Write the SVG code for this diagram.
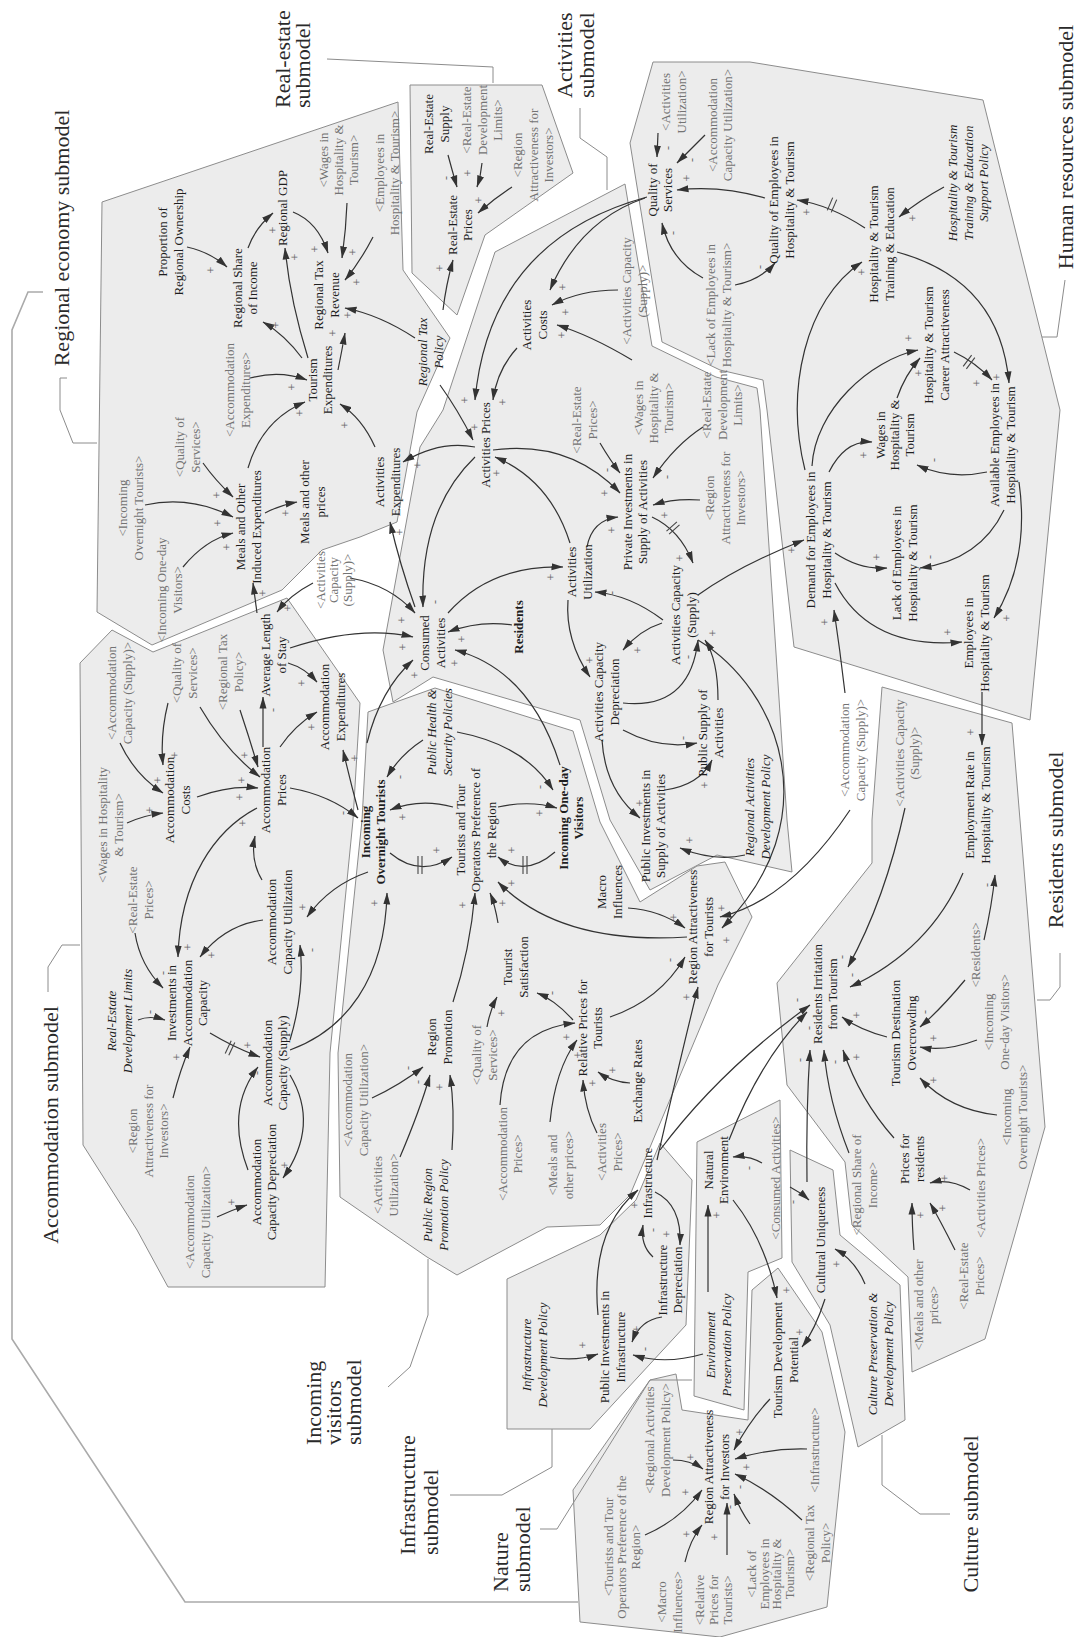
<svg xmlns="http://www.w3.org/2000/svg" width="1077" height="1637" viewBox="0 0 1077 1637">
<defs>
<marker id="ah" viewBox="0 0 12 8" refX="11.5" refY="4" markerWidth="12" markerHeight="8" markerUnits="userSpaceOnUse" orient="auto"><path d="M0,0.5 L12,4 L0,7.5 z" fill="#333"/></marker>
<style>
.n{font-family:"Liberation Serif","Times New Roman",serif;font-size:13px;fill:#1e1e1e;text-anchor:middle}
.g{fill:#737373}
.i{font-style:italic}
.b{font-weight:bold}
.s{font-family:"Liberation Serif",serif;font-size:12px;fill:#666;text-anchor:middle}
.ttl{font-family:"Liberation Serif","Times New Roman",serif;font-size:22px;fill:#2a2a2a}
.poly{fill:#ececec;stroke:#8c8c8c;stroke-width:1}
.br{fill:none;stroke:#8c8c8c;stroke-width:1}
.a{fill:none;stroke:#333;stroke-width:1.2;marker-end:url(#ah)}
.d{stroke:#444;stroke-width:1.1}
</style>
</defs>
<rect width="1077" height="1637" fill="#fff"/>

<g id="submodel-areas">
<polygon class="poly" points="102,202 398,102 403,270 450,338 417,412 397,522 360,537 322,550 282,590 152,645 97,612"/>
<polygon class="poly" points="410,85 542,85 573,173 485,235 457,315 412,273"/>
<polygon class="poly" points="495,252 625,184 652,346 716,377 757,388 760,410 787,820 792,872 717,855 650,890 610,820 580,720 433,677 393,702 383,650 420,447 443,410"/>
<polygon class="poly" points="653,62 750,62 983,100 1060,410 1030,720 794,647 767,410 763,380 720,370 662,342 630,143"/>
<polygon class="poly" points="80,663 112,630 153,652 287,598 360,703 353,820 330,1053 325,1287 168,1287 137,1230 83,1145"/>
<polygon class="poly" points="368,712 435,688 573,731 600,822 640,902 697,866 725,862 752,917 718,985 630,1195 600,1225 547,1227 457,1275 427,1257 340,1197 338,1053 362,820"/>
<polygon class="poly" points="882,687 1012,723 1020,820 1045,1127 1017,1227 985,1339 912,1372 908,1277 852,1225 845,1162 787,1085 777,983 872,863 872,820"/>
<polygon class="poly" points="507,1279 600,1235 636,1200 660,1143 692,1180 686,1325 590,1429 507,1429"/>
<polygon class="poly" points="697,1142 780,1100 782,1258 748,1272 744,1410 694,1396"/>
<polygon class="poly" points="790,1150 833,1170 840,1235 900,1285 905,1420 858,1447 830,1325 792,1262"/>
<polygon class="poly" points="580,1622 573,1490 650,1380 676,1374 682,1410 748,1420 752,1290 778,1268 822,1332 845,1432 827,1607 720,1637"/>
</g>

<g id="titles">
<polyline points="43,292 28,292 12,330 12,1339 185,1602 578,1602" fill="none" stroke="#aaa" stroke-width="1.6"/>
<polyline class="br" points="67,378 60,378 60,410 73,443 97,443"/>
<polyline class="br" points="327,59 493,67 493,83"/>
<polyline class="br" points="580,108 580,138 607,157 607,190"/>
<polyline class="br" points="1065,280 1057,337 1042,337"/>
<polyline class="br" points="1060,953 1060,987 1050,1000 1037,1000"/>
<polyline class="br" points="48,992 48,967 62,945 80,945"/>
<polyline class="br" points="388,1387 410,1367 428,1315 428,1259"/>
<polyline class="br" points="450,1495 502,1495 552,1467 552,1429"/>
<polyline class="br" points="540,1529 557,1529 650,1380 692,1380"/>
<polyline class="br" points="950,1514 920,1514 882,1485 882,1435"/>
<text class="ttl" text-anchor="middle" transform="translate(61,238) rotate(-90)" y="7.7">Regional economy submodel</text>
<text class="ttl" transform="translate(292,108) rotate(-90)"><tspan x="0" y="-2.3">Real-estate</tspan><tspan x="0" y="17.7">submodel</tspan></text>
<text class="ttl" transform="translate(575,98) rotate(-90)"><tspan x="0" y="-3.3">Activities</tspan><tspan x="0" y="18.7">submodel</tspan></text>
<text class="ttl" text-anchor="middle" transform="translate(1065,147) rotate(-90)" y="7.7">Human resources submodel</text>
<text class="ttl" text-anchor="middle" transform="translate(1055,840) rotate(-90)" y="7.7">Residents submodel</text>
<text class="ttl" text-anchor="middle" transform="translate(50,1125) rotate(-90)" y="7.7">Accommodation submodel</text>
<text class="ttl" transform="translate(333,1445) rotate(-90)"><tspan x="0" y="-12.3">Incoming</tspan><tspan x="0" y="7.7">visitors</tspan><tspan x="0" y="27.7">submodel</tspan></text>
<text class="ttl" transform="translate(418.5,1555) rotate(-90)"><tspan x="0" y="-3.8">Infrastructure</tspan><tspan x="0" y="19.2">submodel</tspan></text>
<text class="ttl" transform="translate(511,1592) rotate(-90)"><tspan x="0" y="-3.3">Nature</tspan><tspan x="0" y="18.7">submodel</tspan></text>
<text class="ttl" text-anchor="middle" transform="translate(970,1514) rotate(-90)" y="7.7">Culture submodel</text>
</g>

<g id="connectors">
<path class="a" d="M187,247 Q210,252 227,267"/>
<path class="a" d="M248,248 Q255,228 273,213"/>
<path class="a" d="M293,212 Q318,222 328,253"/>
<path class="a" d="M347,203 Q346,230 342,258"/>
<path class="a" d="M308,358 Q290,300 285,248"/>
<path class="a" d="M302,358 Q285,335 263,322"/>
<path class="a" d="M338,370 Q342,350 345,333"/>
<path class="a" d="M250,378 Q280,370 307,380"/>
<path class="a" d="M248,468 Q262,420 305,402"/>
<path class="a" d="M375,447 Q362,418 340,404"/>
<path class="a" d="M373,237 Q360,262 345,280"/>
<path class="a" d="M415,338 Q380,315 345,308"/>
<path class="a" d="M443,310 Q446,285 453,260"/>
<path class="a" d="M448,155 Q452,170 457,187"/>
<path class="a" d="M482,163 Q481,175 477,187"/>
<path class="a" d="M512,187 Q495,198 478,213"/>
<path class="a" d="M440,385 Q458,410 473,440"/>
<path class="a" d="M645,198 Q580,220 550,290"/>
<path class="a" d="M618,290 Q580,290 552,305"/>
<path class="a" d="M632,360 Q590,335 557,325"/>
<path class="a" d="M517,348 Q497,370 493,400"/>
<path class="a" d="M647,197 Q490,240 475,400"/>
<path class="a" d="M475,447 Q440,440 403,462"/>
<path class="a" d="M600,443 Q610,460 620,473"/>
<path class="a" d="M703,427 Q675,445 653,478"/>
<path class="a" d="M700,500 Q675,498 653,505"/>
<path class="a" d="M493,450 Q570,440 620,493"/>
<path class="a" d="M587,547 Q592,520 618,517"/>
<path class="a" d="M652,517 Q680,530 693,563"/>
<path class="a" d="M570,543 Q550,480 495,457"/>
<path class="a" d="M475,457 Q420,510 423,607"/>
<path class="a" d="M448,613 Q490,565 563,567"/>
<path class="a" d="M512,625 Q480,620 448,632"/>
<path class="a" d="M663,620 Q630,595 595,592"/>
<path class="a" d="M662,623 Q640,630 623,650"/>
<path class="a" d="M568,600 Q565,640 590,677"/>
<path class="a" d="M623,703 Q690,710 698,640"/>
<path class="a" d="M623,730 Q660,750 697,743"/>
<path class="a" d="M718,700 Q718,660 705,640"/>
<path class="a" d="M602,740 Q605,790 640,818"/>
<path class="a" d="M665,790 Q700,785 712,760"/>
<path class="a" d="M745,855 Q715,862 680,848"/>
<path class="a" d="M350,578 Q390,585 415,613"/>
<path class="a" d="M290,648 Q360,625 413,637"/>
<path class="a" d="M367,743 Q380,690 413,660"/>
<path class="a" d="M560,765 Q530,670 455,650"/>
<path class="a" d="M415,607 Q400,565 390,522"/>
<path class="a" d="M423,740 Q400,755 387,777"/>
<path class="a" d="M457,732 Q525,745 553,790"/>
<path class="a" d="M498,807 Q530,800 557,808"/>
<path class="a" d="M453,807 Q420,798 390,810"/>
<path class="a" d="M390,853 Q420,878 452,857"/>
<path class="a" d="M555,852 Q525,878 498,857"/>
<path class="a" d="M290,1050 C345,1030 385,980 387,893"/>
<path class="a" d="M453,1002 Q470,950 475,893"/>
<path class="a" d="M498,923 Q495,905 490,893"/>
<path class="a" d="M687,937 Q560,945 498,882"/>
<path class="a" d="M628,908 Q660,910 685,928"/>
<path class="a" d="M487,1027 Q490,1010 497,997"/>
<path class="a" d="M573,1020 Q555,1000 537,993"/>
<path class="a" d="M610,1017 Q660,1000 685,957"/>
<path class="a" d="M630,1083 Q612,1082 598,1072"/>
<path class="a" d="M500,1105 Q505,1030 575,1023"/>
<path class="a" d="M550,1122 Q555,1070 577,1040"/>
<path class="a" d="M597,1133 Q585,1110 583,1080"/>
<path class="a" d="M372,1098 Q400,1085 423,1067"/>
<path class="a" d="M400,1157 Q420,1110 430,1075"/>
<path class="a" d="M452,1150 Q455,1110 450,1075"/>
<path class="a" d="M657,1160 Q680,1060 698,987"/>
<path class="a" d="M850,810 Q790,900 720,917"/>
<path class="a" d="M698,640 C780,690 830,820 722,928"/>
<path class="a" d="M982,692 L982,745"/>
<path class="a" d="M984,940 Q992,905 995,875"/>
<path class="a" d="M905,808 Q885,900 848,967"/>
<path class="a" d="M963,873 Q930,950 850,987"/>
<path class="a" d="M965,980 Q940,1010 920,1027"/>
<path class="a" d="M977,1040 Q945,1052 920,1047"/>
<path class="a" d="M997,1115 Q950,1110 920,1078"/>
<path class="a" d="M887,1037 Q860,1030 842,1017"/>
<path class="a" d="M894,1138 Q860,1100 843,1050"/>
<path class="a" d="M849,1153 Q828,1100 824,1050"/>
<path class="a" d="M807,1182 Q806,1110 810,1050"/>
<path class="a" d="M729,1140 Q760,1060 807,1012"/>
<path class="a" d="M660,1150 Q720,1070 810,1005"/>
<path class="a" d="M970,1190 Q950,1178 930,1183"/>
<path class="a" d="M914,1250 Q912,1225 912,1203"/>
<path class="a" d="M955,1250 Q940,1220 930,1203"/>
<path class="a" d="M762,1163 Q748,1155 733,1157"/>
<path class="a" d="M790,1187 Q800,1192 809,1200"/>
<path class="a" d="M733,1200 Q765,1240 777,1298"/>
<path class="a" d="M825,1299 Q815,1330 802,1347"/>
<path class="a" d="M865,1284 Q855,1260 835,1249"/>
<path class="a" d="M708,1292 L708,1205"/>
<path class="a" d="M550,1357 Q575,1362 598,1354"/>
<path class="a" d="M662,1317 Q640,1320 632,1342"/>
<path class="a" d="M703,1354 Q665,1365 633,1355"/>
<path class="a" d="M598,1315 Q590,1230 638,1190"/>
<path class="a" d="M655,1192 Q682,1205 680,1245"/>
<path class="a" d="M653,1257 Q640,1245 643,1225"/>
<path class="a" d="M770,1399 Q750,1420 734,1450"/>
<path class="a" d="M807,1449 Q770,1448 735,1459"/>
<path class="a" d="M802,1520 Q770,1490 735,1474"/>
<path class="a" d="M750,1524 Q740,1510 734,1494"/>
<path class="a" d="M645,1535 Q680,1520 702,1490"/>
<path class="a" d="M673,1460 Q690,1460 703,1469"/>
<path class="a" d="M685,1562 Q690,1540 702,1525"/>
<path class="a" d="M727,1555 L727,1503"/>
<path class="a" d="M765,198 Q720,185 677,190"/>
<path class="a" d="M703,278 Q670,260 662,223"/>
<path class="a" d="M735,285 Q760,280 775,263"/>
<path class="a" d="M658,133 L657,157"/>
<path class="a" d="M705,135 Q690,150 677,163"/>
<path class="a" d="M865,228 Q830,205 797,200"/>
<path class="a" d="M944,187 Q920,200 899,217"/>
<path class="a" d="M897,252 Q1000,280 1009,383"/>
<path class="a" d="M805,470 C785,390 805,300 862,262"/>
<path class="a" d="M954,352 Q975,362 992,380"/>
<path class="a" d="M897,398 Q905,375 920,358"/>
<path class="a" d="M812,466 C815,410 870,360 918,350"/>
<path class="a" d="M829,472 Q845,440 872,442"/>
<path class="a" d="M987,472 Q950,480 917,465"/>
<path class="a" d="M1004,510 Q980,560 920,568"/>
<path class="a" d="M1019,482 Q1030,560 994,618"/>
<path class="a" d="M835,553 Q860,570 887,568"/>
<path class="a" d="M835,583 Q870,650 962,642"/>
<path class="a" d="M698,595 Q740,565 804,540"/>
<path class="a" d="M845,693 Q840,650 834,610"/>
<path class="a" d="M120,743 Q135,775 163,793"/>
<path class="a" d="M168,703 Q160,735 163,765"/>
<path class="a" d="M197,797 Q230,785 258,788"/>
<path class="a" d="M200,707 Q225,750 260,777"/>
<path class="a" d="M240,710 Q250,740 258,767"/>
<path class="a" d="M263,747 L263,697"/>
<path class="a" d="M280,747 Q295,725 317,712"/>
<path class="a" d="M288,663 Q305,668 317,682"/>
<path class="a" d="M257,613 L253,583"/>
<path class="a" d="M313,583 Q290,595 277,612"/>
<path class="a" d="M290,788 Q330,795 358,818"/>
<path class="a" d="M358,810 Q350,780 343,750"/>
<path class="a" d="M127,823 Q145,815 163,813"/>
<path class="a" d="M135,933 Q140,965 163,988"/>
<path class="a" d="M138,1020 Q150,1015 165,1020"/>
<path class="a" d="M173,1098 Q180,1070 190,1047"/>
<path class="a" d="M257,808 C215,830 180,880 178,957"/>
<path class="a" d="M263,920 Q225,925 200,957"/>
<path class="a" d="M210,1033 Q235,1048 260,1057"/>
<path class="a" d="M290,1040 Q305,990 300,945"/>
<path class="a" d="M262,880 Q250,860 255,836"/>
<path class="a" d="M290,1075 Q320,1125 283,1178"/>
<path class="a" d="M248,1170 Q225,1110 258,1067"/>
<path class="a" d="M217,1217 Q232,1210 247,1205"/>
<path class="a" d="M368,872 Q330,885 307,917"/>
<path class="a" d="M145,505 Q190,495 233,517"/>
<path class="a" d="M183,567 Q205,540 233,533"/>
<path class="a" d="M203,463 Q215,480 233,497"/>
<path class="a" d="M265,513 Q280,505 297,502"/>
<g id="delays" class="d">
<line x1="666.5" y1="531.1" x2="676.9" y2="521.9"/><line x1="669.1" y1="534.1" x2="679.5" y2="524.9"/>
<line x1="418" y1="856" x2="418" y2="874"/><line x1="422" y1="856" x2="422" y2="874"/>
<line x1="523" y1="856" x2="523" y2="874"/><line x1="527" y1="856" x2="527" y2="874"/>
<line x1="231.2" y1="1040.8" x2="225.2" y2="1053.4"/><line x1="234.8" y1="1042.6" x2="228.8" y2="1055.2"/>
<line x1="832.7" y1="197.6" x2="827.3" y2="210.4"/><line x1="836.7" y1="199.6" x2="831.3" y2="212.4"/>
<line x1="963.2" y1="366.4" x2="971.6" y2="355.2"/><line x1="966.4" y1="368.8" x2="974.8" y2="357.6"/>
</g>
<g id="polarities">
<text class="s" transform="translate(211,270) rotate(-90)" y="4">+</text>
<text class="s" transform="translate(273,230) rotate(-90)" y="4">+</text>
<text class="s" transform="translate(315,249) rotate(-90)" y="4">+</text>
<text class="s" transform="translate(353,252) rotate(-90)" y="4">+</text>
<text class="s" transform="translate(295,257) rotate(-90)" y="4">+</text>
<text class="s" transform="translate(276,325) rotate(-90)" y="4">+</text>
<text class="s" transform="translate(333,333) rotate(-90)" y="4">+</text>
<text class="s" transform="translate(348,315) rotate(-90)" y="4">+</text>
<text class="s" transform="translate(292,387) rotate(-90)" y="4">+</text>
<text class="s" transform="translate(357,282) rotate(-90)" y="4">+</text>
<text class="s" transform="translate(300,413) rotate(-90)" y="4">+</text>
<text class="s" transform="translate(345,425) rotate(-90)" y="4">+</text>
<text class="s" transform="translate(446,178) rotate(-90)" y="4">-</text>
<text class="s" transform="translate(468,173) rotate(-90)" y="4">+</text>
<text class="s" transform="translate(479,200) rotate(-90)" y="4">+</text>
<text class="s" transform="translate(440,268) rotate(-90)" y="4">+</text>
<text class="s" transform="translate(475,427) rotate(-90)" y="4">+</text>
<text class="s" transform="translate(563,287) rotate(-90)" y="4">+</text>
<text class="s" transform="translate(566,312) rotate(-90)" y="4">+</text>
<text class="s" transform="translate(562,335) rotate(-90)" y="4">+</text>
<text class="s" transform="translate(465,400) rotate(-90)" y="4">+</text>
<text class="s" transform="translate(503,402) rotate(-90)" y="4">+</text>
<text class="s" transform="translate(418,465) rotate(-90)" y="4">+</text>
<text class="s" transform="translate(607,470) rotate(-90)" y="4">-</text>
<text class="s" transform="translate(667,477) rotate(-90)" y="4">-</text>
<text class="s" transform="translate(665,515) rotate(-90)" y="4">+</text>
<text class="s" transform="translate(605,493) rotate(-90)" y="4">+</text>
<text class="s" transform="translate(612,530) rotate(-90)" y="4">+</text>
<text class="s" transform="translate(680,558) rotate(-90)" y="4">+</text>
<text class="s" transform="translate(497,473) rotate(-90)" y="4">+</text>
<text class="s" transform="translate(435,602) rotate(-90)" y="4">-</text>
<text class="s" transform="translate(551,577) rotate(-90)" y="4">+</text>
<text class="s" transform="translate(462,639) rotate(-90)" y="4">+</text>
<text class="s" transform="translate(612,593) rotate(-90)" y="4">-</text>
<text class="s" transform="translate(638,650) rotate(-90)" y="4">+</text>
<text class="s" transform="translate(590,660) rotate(-90)" y="4">+</text>
<text class="s" transform="translate(688,657) rotate(-90)" y="4">-</text>
<text class="s" transform="translate(683,738) rotate(-90)" y="4">-</text>
<text class="s" transform="translate(713,633) rotate(-90)" y="4">+</text>
<text class="s" transform="translate(640,803) rotate(-90)" y="4">+</text>
<text class="s" transform="translate(705,785) rotate(-90)" y="4">+</text>
<text class="s" transform="translate(690,840) rotate(-90)" y="4">+</text>
<text class="s" transform="translate(402,620) rotate(-90)" y="4">+</text>
<text class="s" transform="translate(403,647) rotate(-90)" y="4">+</text>
<text class="s" transform="translate(415,675) rotate(-90)" y="4">+</text>
<text class="s" transform="translate(455,663) rotate(-90)" y="4">+</text>
<text class="s" transform="translate(400,532) rotate(-90)" y="4">+</text>
<text class="s" transform="translate(400,777) rotate(-90)" y="4">-</text>
<text class="s" transform="translate(540,787) rotate(-90)" y="4">-</text>
<text class="s" transform="translate(540,813) rotate(-90)" y="4">+</text>
<text class="s" transform="translate(403,817) rotate(-90)" y="4">+</text>
<text class="s" transform="translate(437,850) rotate(-90)" y="4">+</text>
<text class="s" transform="translate(512,850) rotate(-90)" y="4">+</text>
<text class="s" transform="translate(375,903) rotate(-90)" y="4">+</text>
<text class="s" transform="translate(463,905) rotate(-90)" y="4">+</text>
<text class="s" transform="translate(503,903) rotate(-90)" y="4">+</text>
<text class="s" transform="translate(512,883) rotate(-90)" y="4">+</text>
<text class="s" transform="translate(674,917) rotate(-90)" y="4">+</text>
<text class="s" transform="translate(502,1013) rotate(-90)" y="4">+</text>
<text class="s" transform="translate(552,993) rotate(-90)" y="4">-</text>
<text class="s" transform="translate(670,960) rotate(-90)" y="4">-</text>
<text class="s" transform="translate(613,1070) rotate(-90)" y="4">+</text>
<text class="s" transform="translate(567,1037) rotate(-90)" y="4">+</text>
<text class="s" transform="translate(578,1055) rotate(-90)" y="4">+</text>
<text class="s" transform="translate(593,1083) rotate(-90)" y="4">+</text>
<text class="s" transform="translate(408,1068) rotate(-90)" y="4">-</text>
<text class="s" transform="translate(418,1082) rotate(-90)" y="4">-</text>
<text class="s" transform="translate(440,1087) rotate(-90)" y="4">+</text>
<text class="s" transform="translate(687,997) rotate(-90)" y="4">+</text>
<text class="s" transform="translate(722,908) rotate(-90)" y="4">+</text>
<text class="s" transform="translate(727,940) rotate(-90)" y="4">+</text>
<text class="s" transform="translate(971,732) rotate(-90)" y="4">+</text>
<text class="s" transform="translate(987,885) rotate(-90)" y="4">-</text>
<text class="s" transform="translate(842,957) rotate(-90)" y="4">-</text>
<text class="s" transform="translate(852,975) rotate(-90)" y="4">-</text>
<text class="s" transform="translate(925,1012) rotate(-90)" y="4">-</text>
<text class="s" transform="translate(934,1038) rotate(-90)" y="4">+</text>
<text class="s" transform="translate(934,1080) rotate(-90)" y="4">+</text>
<text class="s" transform="translate(857,1015) rotate(-90)" y="4">+</text>
<text class="s" transform="translate(857,1057) rotate(-90)" y="4">+</text>
<text class="s" transform="translate(835,1062) rotate(-90)" y="4">-</text>
<text class="s" transform="translate(800,1060) rotate(-90)" y="4">-</text>
<text class="s" transform="translate(809,1028) rotate(-90)" y="4">-</text>
<text class="s" transform="translate(797,1000) rotate(-90)" y="4">-</text>
<text class="s" transform="translate(945,1178) rotate(-90)" y="4">+</text>
<text class="s" transform="translate(921,1215) rotate(-90)" y="4">+</text>
<text class="s" transform="translate(943,1208) rotate(-90)" y="4">+</text>
<text class="s" transform="translate(749,1168) rotate(-90)" y="4">-</text>
<text class="s" transform="translate(793,1202) rotate(-90)" y="4">-</text>
<text class="s" transform="translate(787,1290) rotate(-90)" y="4">+</text>
<text class="s" transform="translate(800,1332) rotate(-90)" y="4">+</text>
<text class="s" transform="translate(837,1264) rotate(-90)" y="4">+</text>
<text class="s" transform="translate(717,1215) rotate(-90)" y="4">+</text>
<text class="s" transform="translate(583,1345) rotate(-90)" y="4">+</text>
<text class="s" transform="translate(637,1329) rotate(-90)" y="4">+</text>
<text class="s" transform="translate(645,1349) rotate(-90)" y="4">-</text>
<text class="s" transform="translate(635,1205) rotate(-90)" y="4">+</text>
<text class="s" transform="translate(667,1234) rotate(-90)" y="4">+</text>
<text class="s" transform="translate(653,1230) rotate(-90)" y="4">-</text>
<text class="s" transform="translate(740,1432) rotate(-90)" y="4">+</text>
<text class="s" transform="translate(747,1467) rotate(-90)" y="4">+</text>
<text class="s" transform="translate(740,1487) rotate(-90)" y="4">-</text>
<text class="s" transform="translate(730,1507) rotate(-90)" y="4">-</text>
<text class="s" transform="translate(686,1492) rotate(-90)" y="4">+</text>
<text class="s" transform="translate(691,1457) rotate(-90)" y="4">+</text>
<text class="s" transform="translate(687,1534) rotate(-90)" y="4">+</text>
<text class="s" transform="translate(715,1537) rotate(-90)" y="4">+</text>
<text class="s" transform="translate(687,178) rotate(-90)" y="4">+</text>
<text class="s" transform="translate(673,233) rotate(-90)" y="4">-</text>
<text class="s" transform="translate(760,267) rotate(-90)" y="4">-</text>
<text class="s" transform="translate(668,148) rotate(-90)" y="4">-</text>
<text class="s" transform="translate(692,160) rotate(-90)" y="4">-</text>
<text class="s" transform="translate(807,212) rotate(-90)" y="4">+</text>
<text class="s" transform="translate(913,218) rotate(-90)" y="4">+</text>
<text class="s" transform="translate(997,377) rotate(-90)" y="4">+</text>
<text class="s" transform="translate(862,272) rotate(-90)" y="4">+</text>
<text class="s" transform="translate(977,383) rotate(-90)" y="4">+</text>
<text class="s" transform="translate(919,373) rotate(-90)" y="4">+</text>
<text class="s" transform="translate(909,338) rotate(-90)" y="4">+</text>
<text class="s" transform="translate(864,455) rotate(-90)" y="4">+</text>
<text class="s" transform="translate(934,460) rotate(-90)" y="4">-</text>
<text class="s" transform="translate(930,557) rotate(-90)" y="4">-</text>
<text class="s" transform="translate(1007,618) rotate(-90)" y="4">+</text>
<text class="s" transform="translate(877,557) rotate(-90)" y="4">+</text>
<text class="s" transform="translate(948,632) rotate(-90)" y="4">+</text>
<text class="s" transform="translate(792,550) rotate(-90)" y="4">+</text>
<text class="s" transform="translate(825,622) rotate(-90)" y="4">+</text>
<text class="s" transform="translate(158,780) rotate(-90)" y="4">+</text>
<text class="s" transform="translate(175,755) rotate(-90)" y="4">+</text>
<text class="s" transform="translate(242,780) rotate(-90)" y="4">+</text>
<text class="s" transform="translate(245,755) rotate(-90)" y="4">+</text>
<text class="s" transform="translate(240,797) rotate(-90)" y="4">+</text>
<text class="s" transform="translate(273,710) rotate(-90)" y="4">-</text>
<text class="s" transform="translate(312,727) rotate(-90)" y="4">+</text>
<text class="s" transform="translate(302,683) rotate(-90)" y="4">+</text>
<text class="s" transform="translate(263,593) rotate(-90)" y="4">+</text>
<text class="s" transform="translate(288,608) rotate(-90)" y="4">+</text>
<text class="s" transform="translate(343,813) rotate(-90)" y="4">-</text>
<text class="s" transform="translate(355,758) rotate(-90)" y="4">+</text>
<text class="s" transform="translate(150,810) rotate(-90)" y="4">+</text>
<text class="s" transform="translate(163,973) rotate(-90)" y="4">-</text>
<text class="s" transform="translate(150,1012) rotate(-90)" y="4">-</text>
<text class="s" transform="translate(177,1057) rotate(-90)" y="4">+</text>
<text class="s" transform="translate(188,947) rotate(-90)" y="4">+</text>
<text class="s" transform="translate(212,955) rotate(-90)" y="4">+</text>
<text class="s" transform="translate(248,1045) rotate(-90)" y="4">+</text>
<text class="s" transform="translate(312,950) rotate(-90)" y="4">-</text>
<text class="s" transform="translate(243,823) rotate(-90)" y="4">+</text>
<text class="s" transform="translate(285,1165) rotate(-90)" y="4">+</text>
<text class="s" transform="translate(257,1073) rotate(-90)" y="4">-</text>
<text class="s" transform="translate(232,1202) rotate(-90)" y="4">+</text>
<text class="s" transform="translate(303,907) rotate(-90)" y="4">+</text>
<text class="s" transform="translate(218,523) rotate(-90)" y="4">+</text>
<text class="s" transform="translate(227,547) rotate(-90)" y="4">+</text>
<text class="s" transform="translate(217,495) rotate(-90)" y="4">+</text>
<text class="s" transform="translate(286,513) rotate(-90)" y="4">+</text>
</g>
</g>

<g id="nodes">
<g id="n-prop-own"><text class="n" transform="translate(170.5,242) rotate(-90)"><tspan x="0" y="-3.25">Proportion of</tspan><tspan x="0" y="12.25">Regional Ownership</tspan></text></g>
<g id="n-reg-share"><text class="n" transform="translate(245,288) rotate(-90)"><tspan x="0" y="-3.25">Regional Share</tspan><tspan x="0" y="12.25">of Income</tspan></text></g>
<g id="n-reg-gdp"><text class="n" transform="translate(282,208) rotate(-90)" y="4.5">Regional GDP</text></g>
<g id="n-reg-tax-rev"><text class="n" transform="translate(326.5,295) rotate(-90)"><tspan x="0" y="-3.25">Regional Tax</tspan><tspan x="0" y="12.25">Revenue</tspan></text></g>
<g id="r-wages-1"><text class="n g" transform="translate(338,160) rotate(-90)"><tspan x="0" y="-10.5">&lt;Wages in</tspan><tspan x="0" y="4.5">Hospitality &amp;</tspan><tspan x="0" y="19.5">Tourism&gt;</tspan></text></g>
<g id="r-employees-1"><text class="n g" transform="translate(387,173) rotate(-90)"><tspan x="0" y="-3.25">&lt;Employees in</tspan><tspan x="0" y="12.25">Hospitality &amp; Tourism&gt;</tspan></text></g>
<g id="n-tour-exp"><text class="n" transform="translate(320,380) rotate(-90)"><tspan x="0" y="-3.25">Tourism</tspan><tspan x="0" y="12.25">Expenditures</tspan></text></g>
<g id="r-acc-exp"><text class="n g" transform="translate(237.5,390) rotate(-90)"><tspan x="0" y="-3.25">&lt;Accommodation</tspan><tspan x="0" y="12.25">Expenditures&gt;</tspan></text></g>
<g id="n-reg-tax-policy"><text class="n i" transform="translate(430.5,352) rotate(-90)"><tspan x="0" y="-3.25">Regional Tax</tspan><tspan x="0" y="12.25">Policy</tspan></text></g>
<g id="r-overnight-1"><text class="n g" transform="translate(130.5,508) rotate(-90)"><tspan x="0" y="-3.25">&lt;Incoming</tspan><tspan x="0" y="12.25">Overnight Tourists&gt;</tspan></text></g>
<g id="r-oneday-1"><text class="n g" transform="translate(169.5,590) rotate(-90)"><tspan x="0" y="-3.25">&lt;Incoming One-day</tspan><tspan x="0" y="12.25">Visitors&gt;</tspan></text></g>
<g id="r-quality-1"><text class="n g" transform="translate(187.5,447) rotate(-90)"><tspan x="0" y="-3.25">&lt;Quality of</tspan><tspan x="0" y="12.25">Services&gt;</tspan></text></g>
<g id="n-meals-exp"><text class="n" transform="translate(248.5,527) rotate(-90)"><tspan x="0" y="-3.25">Meals and Other</tspan><tspan x="0" y="12.25">Induced Expenditures</tspan></text></g>
<g id="n-meals-prices"><text class="n" transform="translate(312.5,502) rotate(-90)"><tspan x="0" y="-3.25">Meals and other</tspan><tspan x="0" y="12.25">prices</tspan></text></g>
<g id="n-act-exp"><text class="n" transform="translate(387.5,482) rotate(-90)"><tspan x="0" y="-3.25">Activities</tspan><tspan x="0" y="12.25">Expenditures</tspan></text></g>

<g id="n-re-supply"><text class="n" transform="translate(436.5,124) rotate(-90)"><tspan x="0" y="-3.25">Real-Estate</tspan><tspan x="0" y="12.25">Supply</tspan></text></g>
<g id="r-re-limits-1"><text class="n g" transform="translate(482,120) rotate(-90)"><tspan x="0" y="-11">&lt;Real-Estate</tspan><tspan x="0" y="4.5">Development</tspan><tspan x="0" y="20">Limits&gt;</tspan></text></g>
<g id="r-attr-inv-1"><text class="n g" transform="translate(533,155) rotate(-90)"><tspan x="0" y="-11">&lt;Region</tspan><tspan x="0" y="4.5">Attractiveness for</tspan><tspan x="0" y="20">Investors&gt;</tspan></text></g>
<g id="n-re-prices"><text class="n" transform="translate(460,225) rotate(-90)"><tspan x="0" y="-3.25">Real-Estate</tspan><tspan x="0" y="12.25">Prices</tspan></text></g>

<g id="n-act-costs"><text class="n" transform="translate(534.5,325) rotate(-90)"><tspan x="0" y="-3.25">Activities</tspan><tspan x="0" y="12.25">Costs</tspan></text></g>
<g id="r-actcap-1"><text class="n g" transform="translate(634.5,291) rotate(-90)"><tspan x="0" y="-3.25">&lt;Activities Capacity</tspan><tspan x="0" y="12.25">(Supply)&gt;</tspan></text></g>
<g id="r-wages-2"><text class="n g" transform="translate(653,408) rotate(-90)"><tspan x="0" y="-10.5">&lt;Wages in</tspan><tspan x="0" y="4.5">Hospitality &amp;</tspan><tspan x="0" y="19.5">Tourism&gt;</tspan></text></g>
<g id="n-act-prices"><text class="n" transform="translate(485,445) rotate(-90)" y="4.5">Activities Prices</text></g>
<g id="r-re-prices-1"><text class="n g" transform="translate(584.5,420) rotate(-90)"><tspan x="0" y="-3.25">&lt;Real-Estate</tspan><tspan x="0" y="12.25">Prices&gt;</tspan></text></g>
<g id="r-re-limits-2"><text class="n g" transform="translate(722,405) rotate(-90)"><tspan x="0" y="-11">&lt;Real-Estate</tspan><tspan x="0" y="4.5">Development</tspan><tspan x="0" y="20">Limits&gt;</tspan></text></g>
<g id="r-attr-inv-2"><text class="n g" transform="translate(725,498) rotate(-90)"><tspan x="0" y="-11">&lt;Region</tspan><tspan x="0" y="4.5">Attractiveness for</tspan><tspan x="0" y="20">Investors&gt;</tspan></text></g>
<g id="n-priv-inv"><text class="n" transform="translate(635,512) rotate(-90)"><tspan x="0" y="-3.25">Private Investments in</tspan><tspan x="0" y="12.25">Supply of Activities</tspan></text></g>
<g id="n-act-util"><text class="n" transform="translate(579.5,572) rotate(-90)"><tspan x="0" y="-3.25">Activities</tspan><tspan x="0" y="12.25">Utilization</tspan></text></g>
<g id="n-consumed"><text class="n" transform="translate(432.5,643) rotate(-90)"><tspan x="0" y="-3.25">Consumed</tspan><tspan x="0" y="12.25">Activities</tspan></text></g>
<g id="n-residents"><text class="n b" transform="translate(518,627) rotate(-90)" y="4.5">Residents</text></g>
<g id="n-act-cap"><text class="n" transform="translate(683.5,615) rotate(-90)"><tspan x="0" y="-3.25">Activities Capacity</tspan><tspan x="0" y="12.25">(Supply)</tspan></text></g>
<g id="n-act-depr"><text class="n" transform="translate(606.5,692) rotate(-90)"><tspan x="0" y="-3.25">Activities Capacity</tspan><tspan x="0" y="12.25">Depreciation</tspan></text></g>
<g id="n-pub-supply"><text class="n" transform="translate(710.5,733) rotate(-90)"><tspan x="0" y="-3.25">Public Supply of</tspan><tspan x="0" y="12.25">Activities</tspan></text></g>
<g id="n-pub-inv-act"><text class="n" transform="translate(653,826) rotate(-90)"><tspan x="0" y="-3.25">Public Investments in</tspan><tspan x="0" y="12.25">Supply of Activities</tspan></text></g>
<g id="n-reg-act-policy"><text class="n i" transform="translate(757.5,807) rotate(-90)"><tspan x="0" y="-3.25">Regional Activities</tspan><tspan x="0" y="12.25">Development Policy</tspan></text></g>

<g id="n-quality"><text class="n" transform="translate(660,190) rotate(-90)"><tspan x="0" y="-3.25">Quality of</tspan><tspan x="0" y="12.25">Services</tspan></text></g>
<g id="r-act-util-1"><text class="n g" transform="translate(673.5,102) rotate(-90)"><tspan x="0" y="-3.25">&lt;Activities</tspan><tspan x="0" y="12.25">Utilization&gt;</tspan></text></g>
<g id="r-acc-util-1"><text class="n g" transform="translate(720,125) rotate(-90)"><tspan x="0" y="-3.25">&lt;Accommodation</tspan><tspan x="0" y="12.25">Capacity Utilization&gt;</tspan></text></g>
<g id="n-qual-emp"><text class="n" transform="translate(781.5,200) rotate(-90)"><tspan x="0" y="-3.25">Quality of Employees in</tspan><tspan x="0" y="12.25">Hospitality &amp; Tourism</tspan></text></g>
<g id="r-lack-1"><text class="n g" transform="translate(718.5,305) rotate(-90)"><tspan x="0" y="-3.25">&lt;Lack of Employees in</tspan><tspan x="0" y="12.25">Hospitality &amp; Tourism&gt;</tspan></text></g>
<g id="n-training"><text class="n" transform="translate(881.5,244) rotate(-90)"><tspan x="0" y="-3.25">Hospitality &amp; Tourism</tspan><tspan x="0" y="12.25">Training &amp; Education</tspan></text></g>
<g id="n-training-policy"><text class="n i" transform="translate(968,183) rotate(-90)"><tspan x="0" y="-11">Hospitality &amp; Tourism</tspan><tspan x="0" y="4.5">Training &amp; Education</tspan><tspan x="0" y="20">Support Policy</tspan></text></g>
<g id="n-career"><text class="n" transform="translate(936.5,345) rotate(-90)"><tspan x="0" y="-3.25">Hospitality &amp; Tourism</tspan><tspan x="0" y="12.25">Career Attractiveness</tspan></text></g>
<g id="n-wages"><text class="n" transform="translate(894.5,435) rotate(-90)"><tspan x="0" y="-10">Wages in</tspan><tspan x="0" y="4.5">Hospitality &amp;</tspan><tspan x="0" y="19">Tourism</tspan></text></g>
<g id="n-available"><text class="n" transform="translate(1002.5,445) rotate(-90)"><tspan x="0" y="-3.25">Available Employees in</tspan><tspan x="0" y="12.25">Hospitality &amp; Tourism</tspan></text></g>
<g id="n-demand"><text class="n" transform="translate(818.5,540) rotate(-90)"><tspan x="0" y="-3.25">Demand for Employees in</tspan><tspan x="0" y="12.25">Hospitality &amp; Tourism</tspan></text></g>
<g id="n-lack"><text class="n" transform="translate(904.5,563) rotate(-90)"><tspan x="0" y="-3.25">Lack of Employees in</tspan><tspan x="0" y="12.25">Hospitality &amp; Tourism</tspan></text></g>
<g id="n-employees"><text class="n" transform="translate(976.5,633) rotate(-90)"><tspan x="0" y="-3.25">Employees in</tspan><tspan x="0" y="12.25">Hospitality &amp; Tourism</tspan></text></g>
<g id="r-acc-cap-1"><text class="n g" transform="translate(852.5,750) rotate(-90)"><tspan x="0" y="-3.25">&lt;Accommodation</tspan><tspan x="0" y="12.25">Capacity (Supply)&gt;</tspan></text></g>

<g id="r-actcap-2"><text class="n g" transform="translate(907,753) rotate(-90)"><tspan x="0" y="-3.25">&lt;Activities Capacity</tspan><tspan x="0" y="12.25">(Supply)&gt;</tspan></text></g>
<g id="n-emp-rate"><text class="n" transform="translate(977.5,805) rotate(-90)"><tspan x="0" y="-3.25">Employment Rate in</tspan><tspan x="0" y="12.25">Hospitality &amp; Tourism</tspan></text></g>
<g id="n-irritation"><text class="n" transform="translate(825,994) rotate(-90)"><tspan x="0" y="-3.25">Residents Irritation</tspan><tspan x="0" y="12.25">from Tourism</tspan></text></g>
<g id="n-overcrowding"><text class="n" transform="translate(903.5,1033) rotate(-90)"><tspan x="0" y="-3.25">Tourism Destination</tspan><tspan x="0" y="12.25">Overcrowding</tspan></text></g>
<g id="r-residents"><text class="n g" transform="translate(975,955) rotate(-90)" y="4.5">&lt;Residents&gt;</text></g>
<g id="r-oneday-2"><text class="n g" transform="translate(996.5,1022) rotate(-90)"><tspan x="0" y="-3.25">&lt;Incoming</tspan><tspan x="0" y="12.25">One-day Visitors&gt;</tspan></text></g>
<g id="r-overnight-2"><text class="n g" transform="translate(1014.5,1117) rotate(-90)"><tspan x="0" y="-3.25">&lt;Incoming</tspan><tspan x="0" y="12.25">Overnight Tourists&gt;</tspan></text></g>
<g id="n-prices-res"><text class="n" transform="translate(912,1159) rotate(-90)"><tspan x="0" y="-3.25">Prices for</tspan><tspan x="0" y="12.25">residents</tspan></text></g>
<g id="r-act-prices-1"><text class="n g" transform="translate(980,1188) rotate(-90)" y="4.5">&lt;Activities Prices&gt;</text></g>
<g id="r-reg-share"><text class="n g" transform="translate(864.5,1185) rotate(-90)"><tspan x="0" y="-3.25">&lt;Regional Share of</tspan><tspan x="0" y="12.25">Income&gt;</tspan></text></g>
<g id="r-meals-1"><text class="n g" transform="translate(926,1305) rotate(-90)"><tspan x="0" y="-3.25">&lt;Meals and other</tspan><tspan x="0" y="12.25">prices&gt;</tspan></text></g>
<g id="r-re-prices-2"><text class="n g" transform="translate(971.5,1276) rotate(-90)"><tspan x="0" y="-3.25">&lt;Real-Estate</tspan><tspan x="0" y="12.25">Prices&gt;</tspan></text></g>

<g id="n-cultural"><text class="n" transform="translate(820,1240) rotate(-90)" y="4.5">Cultural Uniqueness</text></g>
<g id="n-culture-policy"><text class="n i" transform="translate(880.5,1354) rotate(-90)"><tspan x="0" y="-3.25">Culture Preservation &amp;</tspan><tspan x="0" y="12.25">Development Policy</tspan></text></g>
<g id="n-natural"><text class="n" transform="translate(716,1170) rotate(-90)"><tspan x="0" y="-3.25">Natural</tspan><tspan x="0" y="12.25">Environment</tspan></text></g>
<g id="r-consumed"><text class="n g" transform="translate(775,1178) rotate(-90)" y="4.5">&lt;Consumed Activities&gt;</text></g>
<g id="n-env-policy"><text class="n i" transform="translate(718.5,1345) rotate(-90)"><tspan x="0" y="-3.25">Environment</tspan><tspan x="0" y="12.25">Preservation Policy</tspan></text></g>

<g id="n-tdp"><text class="n" transform="translate(785.5,1360) rotate(-90)"><tspan x="0" y="-3.25">Tourism Development</tspan><tspan x="0" y="12.25">Potential</tspan></text></g>
<g id="n-attr-inv"><text class="n" transform="translate(716.5,1467) rotate(-90)"><tspan x="0" y="-3.25">Region Attractiveness</tspan><tspan x="0" y="12.25">for Investors</tspan></text></g>
<g id="r-infra"><text class="n g" transform="translate(814,1450) rotate(-90)" y="4.5">&lt;Infrastructure&gt;</text></g>
<g id="r-tax-policy-2"><text class="n g" transform="translate(817.5,1543) rotate(-90)"><tspan x="0" y="-3.25">&lt;Regional Tax</tspan><tspan x="0" y="12.25">Policy&gt;</tspan></text></g>
<g id="r-lack-2"><text class="n g" transform="translate(770.5,1574) rotate(-90)"><tspan x="0" y="-14.25">&lt;Lack of</tspan><tspan x="0" y="-1.75">Employees in</tspan><tspan x="0" y="10.75">Hospitality &amp;</tspan><tspan x="0" y="23.25">Tourism&gt;</tspan></text></g>
<g id="r-pref"><text class="n g" transform="translate(621.5,1547) rotate(-90)"><tspan x="0" y="-9">&lt;Tourists and Tour</tspan><tspan x="0" y="4.5">Operators Preference of the</tspan><tspan x="0" y="18">Region&gt;</tspan></text></g>
<g id="r-reg-act-policy"><text class="n g" transform="translate(657.5,1440) rotate(-90)"><tspan x="0" y="-3.25">&lt;Regional Activities</tspan><tspan x="0" y="12.25">Development Policy&gt;</tspan></text></g>
<g id="r-macro"><text class="n g" transform="translate(669.5,1602) rotate(-90)"><tspan x="0" y="-3.25">&lt;Macro</tspan><tspan x="0" y="12.25">Influences&gt;</tspan></text></g>
<g id="r-rel-prices"><text class="n g" transform="translate(713,1600) rotate(-90)"><tspan x="0" y="-9.5">&lt;Relative</tspan><tspan x="0" y="4.5">Prices for</tspan><tspan x="0" y="18.5">Tourists&gt;</tspan></text></g>

<g id="n-pub-inv-inf"><text class="n" transform="translate(612.5,1347) rotate(-90)"><tspan x="0" y="-3.25">Public Investments in</tspan><tspan x="0" y="12.25">Infrastructure</tspan></text></g>
<g id="n-inf-policy"><text class="n i" transform="translate(534.5,1355) rotate(-90)"><tspan x="0" y="-3.25">Infrastructure</tspan><tspan x="0" y="12.25">Development Policy</tspan></text></g>
<g id="n-inf-depr"><text class="n" transform="translate(670,1280) rotate(-90)"><tspan x="0" y="-3.25">Infrastructure</tspan><tspan x="0" y="12.25">Depreciation</tspan></text></g>
<g id="n-infra"><text class="n" transform="translate(647,1183) rotate(-90)" y="4.5">Infrastructure</text></g>

<g id="n-overnight"><text class="n b" transform="translate(373,832) rotate(-90)"><tspan x="0" y="-3.25">Incoming</tspan><tspan x="0" y="12.25">Overnight Tourists</tspan></text></g>
<g id="n-oneday"><text class="n b" transform="translate(571,818) rotate(-90)"><tspan x="0" y="-3.25">Incoming One-day</tspan><tspan x="0" y="12.25">Visitors</tspan></text></g>
<g id="n-health-policy"><text class="n i" transform="translate(439.5,732) rotate(-90)"><tspan x="0" y="-3.25">Public Health &amp;</tspan><tspan x="0" y="12.25">Security Policies</tspan></text></g>
<g id="n-pref"><text class="n" transform="translate(475.5,830) rotate(-90)"><tspan x="0" y="-11">Tourists and Tour</tspan><tspan x="0" y="4.5">Operators Preference of</tspan><tspan x="0" y="20">the Region</tspan></text></g>
<g id="n-macro"><text class="n" transform="translate(609.5,892) rotate(-90)"><tspan x="0" y="-3.25">Macro</tspan><tspan x="0" y="12.25">Influences</tspan></text></g>
<g id="n-attr-tour"><text class="n" transform="translate(700.5,927) rotate(-90)"><tspan x="0" y="-3.25">Region Attractiveness</tspan><tspan x="0" y="12.25">for Tourists</tspan></text></g>
<g id="n-satisfaction"><text class="n" transform="translate(515.5,967) rotate(-90)"><tspan x="0" y="-3.25">Tourist</tspan><tspan x="0" y="12.25">Satisfaction</tspan></text></g>
<g id="n-promotion"><text class="n" transform="translate(439.5,1037) rotate(-90)"><tspan x="0" y="-3.25">Region</tspan><tspan x="0" y="12.25">Promotion</tspan></text></g>
<g id="r-quality-2"><text class="n g" transform="translate(484.5,1055) rotate(-90)"><tspan x="0" y="-3.25">&lt;Quality of</tspan><tspan x="0" y="12.25">Services&gt;</tspan></text></g>
<g id="n-rel-prices"><text class="n" transform="translate(590,1028) rotate(-90)"><tspan x="0" y="-3.25">Relative Prices for</tspan><tspan x="0" y="12.25">Tourists</tspan></text></g>
<g id="n-exchange"><text class="n" transform="translate(637,1081) rotate(-90)" y="4.5">Exchange Rates</text></g>
<g id="r-acc-prices"><text class="n g" transform="translate(510,1154) rotate(-90)"><tspan x="0" y="-3.25">&lt;Accommodation</tspan><tspan x="0" y="12.25">Prices&gt;</tspan></text></g>
<g id="r-meals-2"><text class="n g" transform="translate(560.5,1165) rotate(-90)"><tspan x="0" y="-3.25">&lt;Meals and</tspan><tspan x="0" y="12.25">other prices&gt;</tspan></text></g>
<g id="r-act-prices-2"><text class="n g" transform="translate(609.5,1152) rotate(-90)"><tspan x="0" y="-3.25">&lt;Activities</tspan><tspan x="0" y="12.25">Prices&gt;</tspan></text></g>
<g id="r-acc-util-2"><text class="n g" transform="translate(355.5,1100) rotate(-90)"><tspan x="0" y="-3.25">&lt;Accommodation</tspan><tspan x="0" y="12.25">Capacity Utilization&gt;</tspan></text></g>
<g id="r-act-util-2"><text class="n g" transform="translate(385.5,1185) rotate(-90)"><tspan x="0" y="-3.25">&lt;Activities</tspan><tspan x="0" y="12.25">Utilization&gt;</tspan></text></g>
<g id="n-promo-policy"><text class="n i" transform="translate(435.5,1205) rotate(-90)"><tspan x="0" y="-3.25">Public Region</tspan><tspan x="0" y="12.25">Promotion Policy</tspan></text></g>

<g id="r-acc-cap-2"><text class="n g" transform="translate(119.5,693) rotate(-90)"><tspan x="0" y="-3.25">&lt;Accommodation</tspan><tspan x="0" y="12.25">Capacity (Supply)&gt;</tspan></text></g>
<g id="r-quality-3"><text class="n g" transform="translate(184.5,673) rotate(-90)"><tspan x="0" y="-3.25">&lt;Quality of</tspan><tspan x="0" y="12.25">Services&gt;</tspan></text></g>
<g id="r-tax-policy-1"><text class="n g" transform="translate(230.5,672) rotate(-90)"><tspan x="0" y="-3.25">&lt;Regional Tax</tspan><tspan x="0" y="12.25">Policy&gt;</tspan></text></g>
<g id="n-avg-stay"><text class="n" transform="translate(273.5,655) rotate(-90)"><tspan x="0" y="-3.25">Average Length</tspan><tspan x="0" y="12.25">of Stay</tspan></text></g>
<g id="r-actcap-3"><text class="n g" transform="translate(333.5,580) rotate(-90)"><tspan x="0" y="-9">&lt;Activities</tspan><tspan x="0" y="4.5">Capacity</tspan><tspan x="0" y="18">(Supply)&gt;</tspan></text></g>
<g id="n-acc-exp"><text class="n" transform="translate(332.5,707) rotate(-90)"><tspan x="0" y="-3.25">Accommodation</tspan><tspan x="0" y="12.25">Expenditures</tspan></text></g>
<g id="n-acc-prices"><text class="n" transform="translate(273.5,790) rotate(-90)"><tspan x="0" y="-3.25">Accommodation</tspan><tspan x="0" y="12.25">Prices</tspan></text></g>
<g id="n-acc-costs"><text class="n" transform="translate(177.5,800) rotate(-90)"><tspan x="0" y="-3.25">Accommodation</tspan><tspan x="0" y="12.25">Costs</tspan></text></g>
<g id="r-wages-3"><text class="n g" transform="translate(110.5,825) rotate(-90)"><tspan x="0" y="-3.25">&lt;Wages in Hospitality</tspan><tspan x="0" y="12.25">&amp; Tourism&gt;</tspan></text></g>
<g id="r-re-prices-3"><text class="n g" transform="translate(140.5,900) rotate(-90)"><tspan x="0" y="-3.25">&lt;Real-Estate</tspan><tspan x="0" y="12.25">Prices&gt;</tspan></text></g>
<g id="n-re-limits"><text class="n i" transform="translate(119.5,1021) rotate(-90)"><tspan x="0" y="-3.25">Real-Estate</tspan><tspan x="0" y="12.25">Development Limits</tspan></text></g>
<g id="n-acc-inv"><text class="n" transform="translate(187,1003) rotate(-90)"><tspan x="0" y="-11">Investments in</tspan><tspan x="0" y="4.5">Accommodation</tspan><tspan x="0" y="20">Capacity</tspan></text></g>
<g id="n-acc-util"><text class="n" transform="translate(279.5,922) rotate(-90)"><tspan x="0" y="-3.25">Accommodation</tspan><tspan x="0" y="12.25">Capacity Utilization</tspan></text></g>
<g id="n-acc-cap"><text class="n" transform="translate(275,1063) rotate(-90)"><tspan x="0" y="-3.25">Accommodation</tspan><tspan x="0" y="12.25">Capacity (Supply)</tspan></text></g>
<g id="r-attr-inv-3"><text class="n g" transform="translate(148,1131) rotate(-90)"><tspan x="0" y="-11">&lt;Region</tspan><tspan x="0" y="4.5">Attractiveness for</tspan><tspan x="0" y="20">Investors&gt;</tspan></text></g>
<g id="n-acc-depr"><text class="n" transform="translate(264,1182) rotate(-90)"><tspan x="0" y="-3.25">Accommodation</tspan><tspan x="0" y="12.25">Capacity Depreciation</tspan></text></g>
<g id="r-acc-util-3"><text class="n g" transform="translate(197.5,1222) rotate(-90)"><tspan x="0" y="-3.25">&lt;Accommodation</tspan><tspan x="0" y="12.25">Capacity Utilization&gt;</tspan></text></g>
</g>
</svg>
